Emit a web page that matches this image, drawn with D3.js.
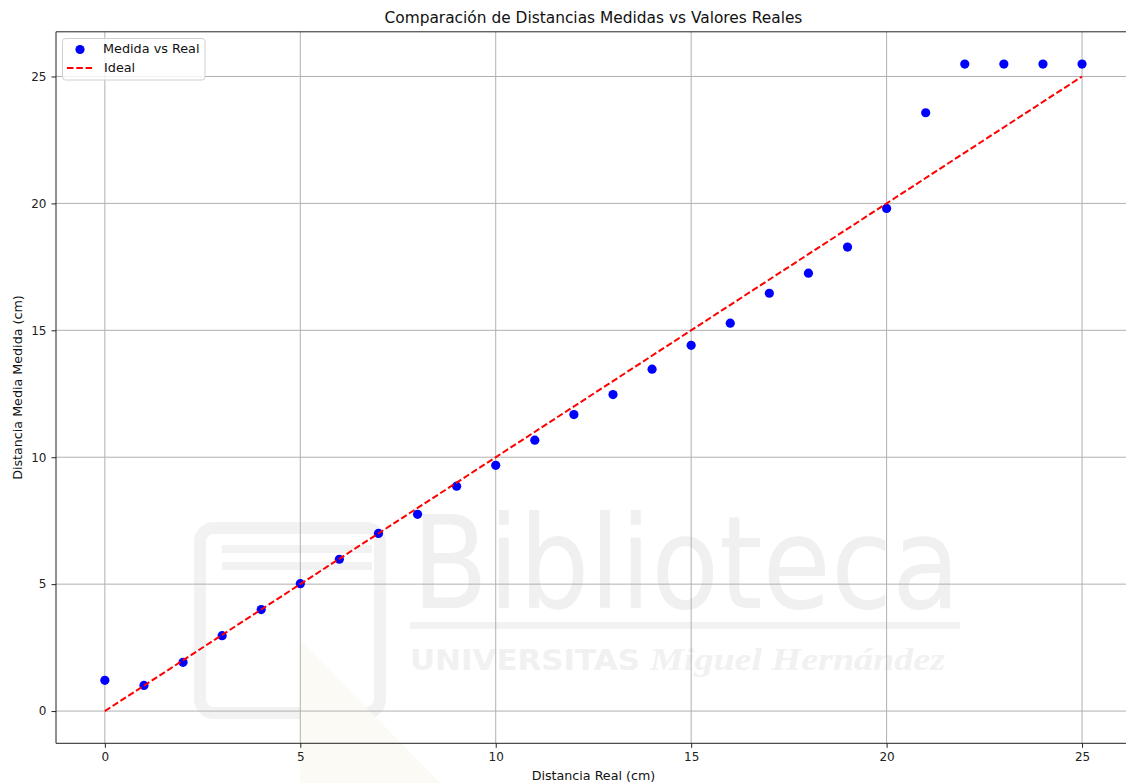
<!DOCTYPE html>
<html>
<head>
<meta charset="utf-8">
<script src="https://cdn.jsdelivr.net/npm/d3@7"></script>
<style>
  html, body { margin: 0; padding: 0; background: #fff; }
  svg { display: block; font-family: "DejaVu Sans", sans-serif; }
</style>
</head>
<body>
<svg id="chart" width="1126" height="783"></svg>
<script>
// Real distance (cm) and mean measured distance (cm)
const realDist = [0, 1, 2, 3, 4, 5, 6, 7, 8, 9, 10, 11, 12, 13, 14, 15, 16, 17, 18, 19, 20, 21, 22, 23, 24, 25];
const measuredDist = [1.21, 1.01, 1.92, 2.97, 4.0, 5.02, 5.98, 7.0, 7.75, 8.86, 9.68, 10.67, 11.68, 12.47, 13.47, 14.41, 15.28, 16.46, 17.25, 18.28, 19.8, 23.57, 25.49, 25.49, 25.49, 25.49];
// Ideal reference line y = x
const idealX = [0, 25];
const idealY = [0, 25];
const xTicks = [0, 5, 10, 15, 20, 25];
const yTicks = [0, 5, 10, 15, 20, 25];

const svg = d3.select("#chart");
const W = 1126, H = 783;
svg.append("rect").attr("width", W).attr("height", H).attr("fill", "#fff");

const x = d3.scaleLinear().domain([-1.25, 26.25]).range([56, 1130.9]);
const y = d3.scaleLinear().domain([-1.27, 26.76]).range([743.3, 31.8]);

// Faint library watermark in the background
const wm = svg.append("g").attr("class", "watermark");
wm.append("rect").attr("x", 200).attr("y", 528).attr("width", 180).attr("height", 185)
  .attr("rx", 14).attr("fill", "none").attr("stroke", "#f2f2f2").attr("stroke-width", 12);
wm.append("rect").attr("x", 222).attr("y", 545).attr("width", 150).attr("height", 8).attr("fill", "#f2f2f2");
wm.append("rect").attr("x", 222).attr("y", 562).attr("width", 150).attr("height", 8).attr("fill", "#f2f2f2");
wm.append("path").attr("d", "M300 640 L440 783 L300 783 Z").attr("fill", "#fcfaf4");
wm.append("text").attr("x", 412).attr("y", 608).attr("font-size", 128)
  .attr("textLength", 548).attr("lengthAdjust", "spacingAndGlyphs")
  .attr("fill", "#f0f0f0").text("Biblioteca");
wm.append("rect").attr("x", 410).attr("y", 622).attr("width", 550).attr("height", 7).attr("fill", "#f2f2f2");
wm.append("text").attr("x", 410).attr("y", 670).attr("font-size", 28).attr("font-weight", "bold")
  .attr("textLength", 230).attr("lengthAdjust", "spacingAndGlyphs")
  .attr("fill", "#f1f1f1").text("UNIVERSITAS");
wm.append("text").attr("x", 650).attr("y", 670).attr("font-size", 32).attr("font-weight", "bold")
  .attr("font-style", "italic").attr("font-family", "Liberation Serif, serif")
  .attr("textLength", 295).attr("lengthAdjust", "spacingAndGlyphs")
  .attr("fill", "#f1f1f1").text("Miguel Hernández");

// Grid
const grid = svg.append("g").attr("class", "grid");
grid.selectAll("line.gx").data(xTicks).join("line")
  .attr("x1", d => x(d)).attr("x2", d => x(d)).attr("y1", y.range()[0]).attr("y2", y.range()[1])
  .attr("stroke", "#b0b0b0").attr("stroke-width", 1);
grid.selectAll("line.gy").data(yTicks).join("line")
  .attr("y1", d => y(d)).attr("y2", d => y(d)).attr("x1", x.range()[0]).attr("x2", x.range()[1])
  .attr("stroke", "#b0b0b0").attr("stroke-width", 1);

// Axes
const xAxis = d3.axisBottom(x).tickValues(xTicks).tickSize(4.5).tickPadding(5).tickFormat(d3.format("d"));
const yAxis = d3.axisLeft(y).tickValues(yTicks).tickSize(4.5).tickPadding(5).tickFormat(d3.format("d"));

const gx = svg.append("g").attr("transform", `translate(0,${y.range()[0]})`).call(xAxis);
const gy = svg.append("g").attr("transform", `translate(${x.range()[0]},0)`).call(yAxis);
[gx, gy].forEach(g => {
  g.select(".domain").remove();
  g.selectAll(".tick line").attr("stroke", "#222").attr("stroke-width", 1);
  g.selectAll(".tick text").attr("fill", "#222").attr("font-size", 12).attr("font-family", "DejaVu Sans, sans-serif");
});

// Spines (left, bottom, top)
const spines = svg.append("g").attr("stroke", "#222").attr("stroke-width", 1);
spines.append("line").attr("x1", x.range()[0]).attr("x2", x.range()[0]).attr("y1", y.range()[0]).attr("y2", y.range()[1]);
spines.append("line").attr("x1", x.range()[0]).attr("x2", x.range()[1]).attr("y1", y.range()[0]).attr("y2", y.range()[0]);
spines.append("line").attr("x1", x.range()[0]).attr("x2", x.range()[1]).attr("y1", y.range()[1]).attr("y2", y.range()[1]);

// Measured points
svg.append("g").selectAll("circle").data(realDist).join("circle")
  .attr("cx", d => x(d)).attr("cy", (d, i) => y(measuredDist[i]))
  .attr("r", 4.6).attr("fill", "#0000ff");

// Ideal line
const line = d3.line().x(d => x(d[0])).y(d => y(d[1]));
svg.append("path").datum(idealX.map((v, i) => [v, idealY[i]]))
  .attr("d", line).attr("fill", "none").attr("stroke", "#ff0000")
  .attr("stroke-width", 2).attr("stroke-dasharray", "6.5,2.8");

// Title and axis labels
svg.append("text").attr("x", (x.range()[0] + x.range()[1]) / 2).attr("y", 23)
  .attr("text-anchor", "middle").attr("font-size", 15.4).attr("fill", "#111")
  .text("Comparación de Distancias Medidas vs Valores Reales");
svg.append("text").attr("x", (x.range()[0] + x.range()[1]) / 2).attr("y", 780)
  .attr("text-anchor", "middle").attr("font-size", 12.7).attr("fill", "#111")
  .text("Distancia Real (cm)");
svg.append("text").attr("transform", `translate(22,${(y.range()[0] + y.range()[1]) / 2}) rotate(-90)`)
  .attr("text-anchor", "middle").attr("font-size", 12.7).attr("fill", "#111")
  .text("Distancia Media Medida (cm)");

// Legend
const lg = svg.append("g");
lg.append("rect").attr("x", 62.5).attr("y", 38.5).attr("width", 142.5).attr("height", 41.5).attr("rx", 3)
  .attr("fill", "#fff").attr("fill-opacity", 0.8).attr("stroke", "#d0d0d0").attr("stroke-width", 1);
lg.append("circle").attr("cx", 80).attr("cy", 49.5).attr("r", 4.6).attr("fill", "#0000ff");
lg.append("line").attr("x1", 67).attr("x2", 93).attr("y1", 68).attr("y2", 68)
  .attr("stroke", "#ff0000").attr("stroke-width", 2).attr("stroke-dasharray", "6.5,2.8");
lg.append("text").attr("x", 103).attr("y", 53).attr("font-size", 12.8).attr("fill", "#111").text("Medida vs Real");
lg.append("text").attr("x", 104).attr("y", 72).attr("font-size", 12.8).attr("fill", "#111").text("Ideal");
</script>
</body>
</html>
